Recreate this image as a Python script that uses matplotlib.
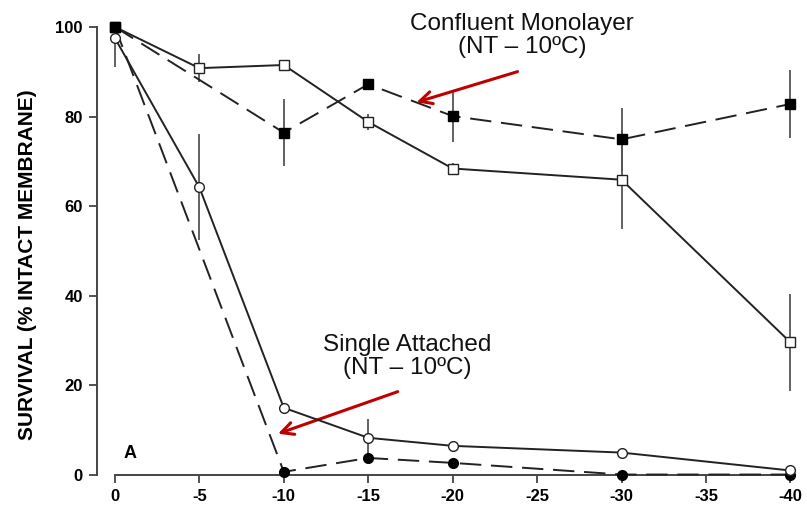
import matplotlib.pyplot as plt

# temperatures (x) and survival values
conf_open_x = [0, -5, -10, -15, -20, -30, -40]
conf_open_y = [100, 90.8, 91.5, 78.8, 68.4, 65.9, 29.6]
conf_open_err = [0, 3.2, 0.8, 1.8, 1.2, 11, 10.8]

conf_fill_x = [0, -10, -15, -20, -30, -40]
conf_fill_y = [100, 76.4, 87.2, 80.1, 74.9, 82.8]
conf_fill_err = [0, 7.5, 0.8, 5.8, 7.0, 7.5]

single_open_x = [0, -5, -10, -15, -20, -30, -40]
single_open_y = [97.5, 64.2, 15.0, 8.3, 6.5, 5.0, 1.0]
single_open_err_lo = [6.5, 11.8, 0.8, 4.2, 0.8, 0.8, 0.5]
single_open_err_hi = [2.0, 11.8, 0.8, 4.2, 0.8, 0.8, 0.5]

single_fill_x = [0, -10, -15, -20, -30, -40]
single_fill_y = [100, 0.7, 3.8, 2.7, 0.1, 0.1]

x_ticks = [0, -5, -10, -15, -20, -25, -30, -35, -40]
y_ticks = [0, 20, 40, 60, 80, 100]

plt.rcParams['font.family'] = ['Liberation Sans', 'DejaVu Sans']

fig = plt.figure(figsize=(8.07, 5.08), dpi=100)
ax = fig.add_axes([0.120, 0.065, 0.872, 0.882])

line_col = '#222222'
dash = (0, (11, 5))

ax.errorbar(conf_open_x, conf_open_y, yerr=conf_open_err, color=line_col, lw=1.4,
            marker='s', ms=7, mfc='white', mec=line_col, mew=1.0,
            ecolor='#555555', elinewidth=1.3, capsize=0, clip_on=False, zorder=3)
ax.errorbar(conf_fill_x, conf_fill_y, yerr=conf_fill_err, color=line_col, lw=1.4, ls=dash,
            marker='s', ms=7, mfc='black', mec='black',
            ecolor='#555555', elinewidth=1.3, capsize=0, clip_on=False, zorder=3)
ax.errorbar(single_open_x, single_open_y, yerr=[single_open_err_lo, single_open_err_hi],
            color=line_col, lw=1.4,
            marker='o', ms=7, mfc='white', mec=line_col, mew=1.0,
            ecolor='#555555', elinewidth=1.3, capsize=0, clip_on=False, zorder=3)
ax.plot(single_fill_x, single_fill_y, color=line_col, lw=1.4, ls=dash,
        marker='o', ms=7, mfc='black', mec='black', clip_on=False, zorder=3)

ax.set_xlim(1.07, -40.6)
ax.set_ylim(0, 100)
ax.spines['top'].set_visible(False)
ax.spines['right'].set_visible(False)
ax.spines['bottom'].set_bounds(0, -40)
ax.spines['left'].set_bounds(0, 100)
for s in ['left', 'bottom']:
    ax.spines[s].set_linewidth(1.4)
    ax.spines[s].set_color('#444444')

ax.set_xticks(x_ticks)
ax.set_xticklabels([str(v) for v in x_ticks])
ax.set_yticks(y_ticks)
ax.tick_params(direction='out', length=6, width=1.3, color='#444444', labelsize=12, pad=4)
for lab in ax.get_xticklabels() + ax.get_yticklabels():
    lab.set_fontweight('bold')

ax.set_ylabel('SURVIVAL (% INTACT MEMBRANE)', fontsize=15, fontweight='bold')
ax.yaxis.set_label_coords(-0.085, 0.469)

ax.text(-0.9, 4.8, 'A', fontsize=13, fontweight='bold', ha='center', va='center')

ax.text(-24.1, 98.0, 'Confluent Monolayer\n(NT – 10ºC)', fontsize=17.5,
        ha='center', va='center', linespacing=1.05, color='#111111')
ax.annotate('', xy=(-17.7, 83.0), xytext=(-24.0, 90.2),
            arrowprops=dict(arrowstyle='->', color='#c00000', lw=2.2, mutation_scale=22))

ax.text(-17.3, 26.4, 'Single Attached\n(NT – 10ºC)', fontsize=17.5,
        ha='center', va='center', linespacing=1.05, color='#111111')
ax.annotate('', xy=(-9.5, 9.0), xytext=(-16.9, 18.8),
            arrowprops=dict(arrowstyle='->', color='#c00000', lw=2.2, mutation_scale=22))

fig.savefig('out.png', dpi=100)
